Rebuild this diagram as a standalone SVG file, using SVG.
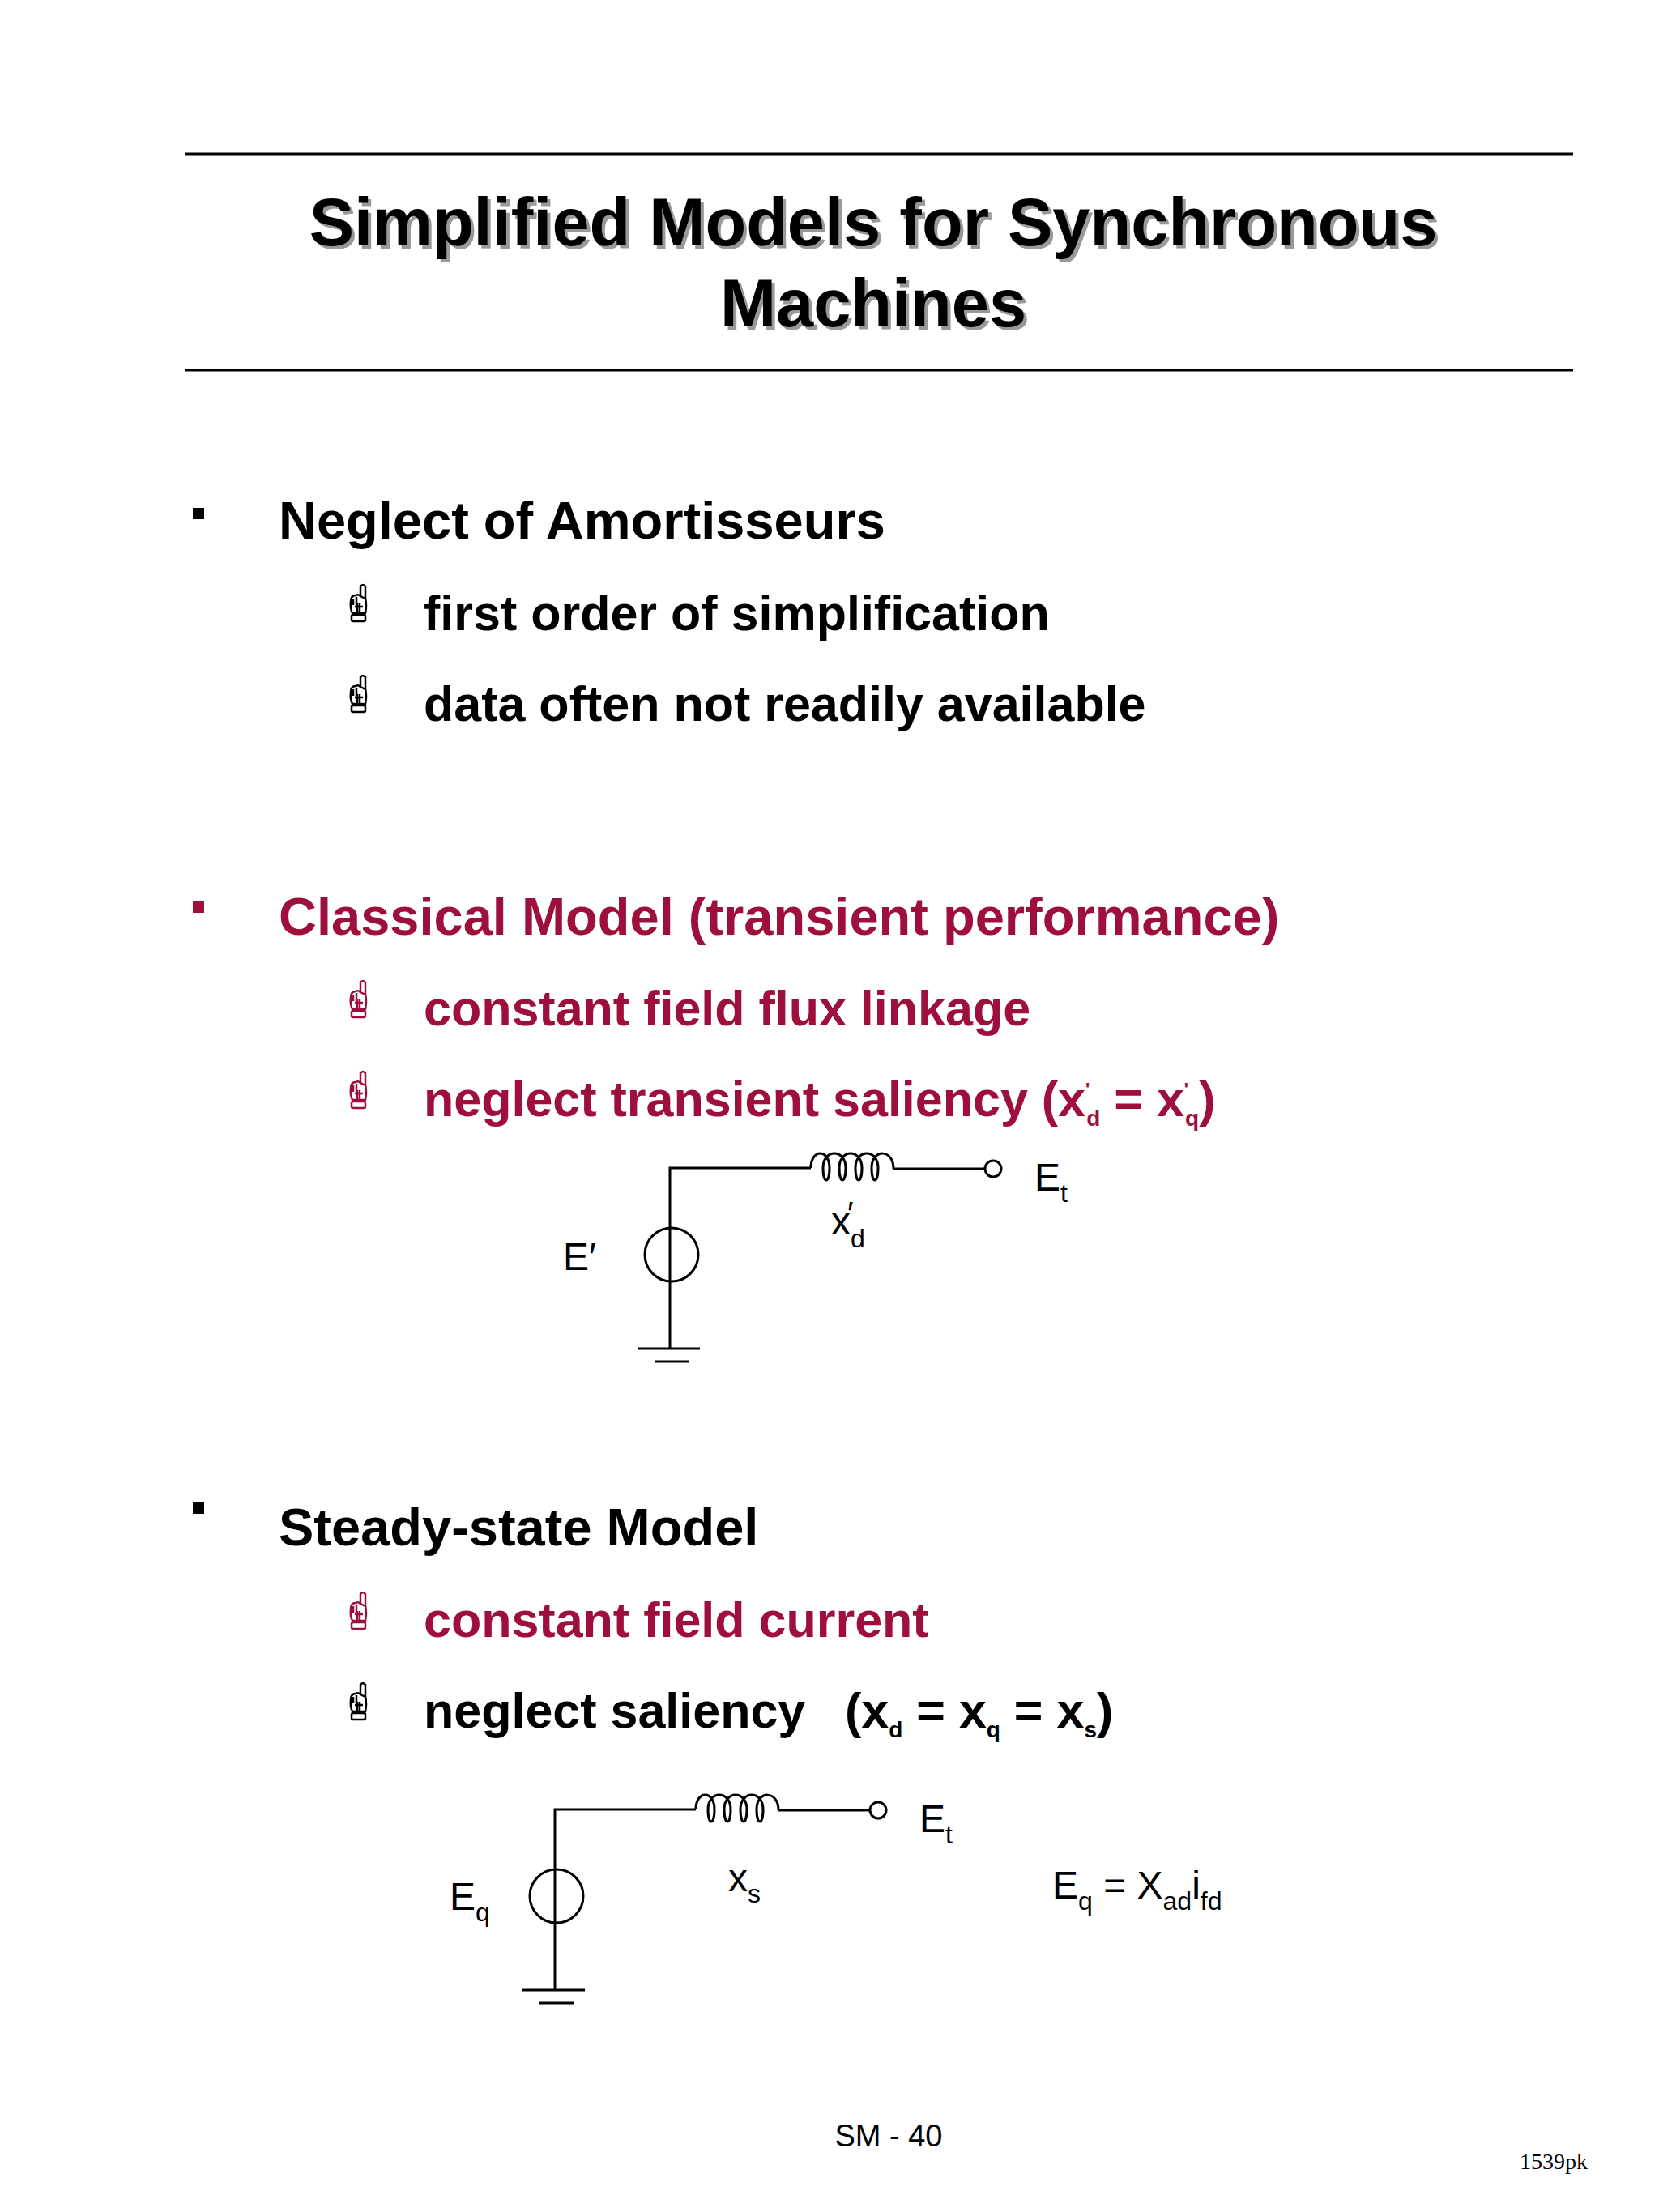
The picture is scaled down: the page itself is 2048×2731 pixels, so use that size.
<svg xmlns="http://www.w3.org/2000/svg" width="2048" height="2731" viewBox="0 0 2048 2731">
<style>
.b{font-family:"Liberation Sans",Arial,sans-serif;font-weight:bold;font-size:65px;fill:#000}
.s{font-size:61px}
.r{fill:#9E0F3C}
.n{font-family:"Liberation Sans",Arial,sans-serif;font-size:48px;fill:#000}
.w{stroke:#000;stroke-width:3;fill:none}
.t{font-family:"Liberation Sans",Arial,sans-serif;font-weight:bold;font-size:83px;text-anchor:middle}
.hk{fill:#fff;stroke:#000;stroke-width:2.5}
.hr{fill:#fff;stroke:#9E0F3C;stroke-width:2.5}
</style>
<defs>
<g id="hand">
<path d="M15,20 L15,3 Q18,-1 21,3 L21,30"/>
<path d="M3,22 Q3,14 9,14 Q12,12 15,15 L21,18 Q23,26 21,36 L5,36 Q2,30 3,22 Z"/>
<path d="M6,18 L6,26 M10,16 L10,26 M8,28 L18,28 M11,24 L11,36 M14,24 L14,36" fill="none"/>
<rect x="4" y="38" width="17" height="8" rx="2"/>
</g>
</defs>
<rect width="2048" height="2731" fill="#fff"/>
<g id="title">
<line x1="228" y1="190" x2="1942" y2="190" stroke="#000" stroke-width="3"/>
<line x1="228" y1="457" x2="1942" y2="457" stroke="#000" stroke-width="3"/>
<text class="t" x="1082" y="307" fill="#999">Simplified Models for Synchronous</text>
<text class="t" x="1082" y="407" fill="#999">Machines</text>
<text class="t" x="1078" y="303" fill="#000">Simplified Models for Synchronous</text>
<text class="t" x="1078" y="403" fill="#000">Machines</text>
</g>
<g id="sec1">
<rect x="238" y="627" width="14" height="14"/>
<text class="b" x="344" y="665">Neglect of Amortisseurs</text>
<use href="#hand" class="hk" x="430" y="721"/>
<text class="b s" x="523" y="778">first order of simplification</text>
<use href="#hand" class="hk" x="430" y="833"/>
<text class="b s" x="523" y="890">data often not readily available</text>
</g>
<g id="sec2">
<rect x="238" y="1113" width="14" height="14" class="r"/>
<text class="b r" x="344" y="1154">Classical Model (transient performance)</text>
<use href="#hand" class="hr" x="430" y="1210"/>
<text class="b s r" x="523" y="1266">constant field flux linkage</text>
<use href="#hand" class="hr" x="430" y="1322"/>
<text class="b s r" x="523" y="1378">neglect transient saliency (x<tspan font-size="22" dy="-26">'</tspan><tspan font-size="28" dx="-4" dy="38">d</tspan><tspan dy="-12"> = x</tspan><tspan font-size="22" dy="-26">'</tspan><tspan font-size="28" dx="-4" dy="38">q</tspan><tspan dy="-12">)</tspan></text>
</g>
<g id="circuit1">
<polyline class="w" points="827,1582 827,1442 1001,1442"/>
<path class="w" d="M1001,1442 C1001,1418 1024,1418 1024,1442 C1024,1462 1016,1462 1016,1442 C1016,1418 1044,1418 1044,1442 C1044,1462 1036,1462 1036,1442 C1036,1418 1064,1418 1064,1442 C1064,1462 1056,1462 1056,1442 C1056,1418 1084,1418 1084,1442 C1084,1462 1076,1462 1076,1442 C1076,1418 1103,1418 1103,1443"/>
<line class="w" x1="1103" y1="1443" x2="1216" y2="1443"/>
<circle class="w" cx="1226" cy="1443" r="10"/>
<circle class="w" cx="829" cy="1549" r="33"/>
<line class="w" x1="827" y1="1582" x2="827" y2="1665"/>
<line class="w" x1="787" y1="1665" x2="864" y2="1665"/>
<line class="w" x1="808" y1="1681" x2="850" y2="1681"/>
<text class="n" x="695" y="1568">E′</text>
<text class="n" x="1026" y="1524">x</text>
<text class="n" x="1046" y="1512" style="font-size:40px">′</text>
<text class="n" x="1050" y="1540" style="font-size:32px">d</text>
<text class="n" x="1277" y="1470">E<tspan font-size="32" dy="14">t</tspan></text>
</g>
<g id="sec3">
<rect x="238" y="1855" width="14" height="14"/>
<text class="b" x="344" y="1908">Steady-state Model</text>
<use href="#hand" class="hr" x="430" y="1965"/>
<text class="b s r" x="523" y="2021">constant field current</text>
<use href="#hand" class="hk" x="430" y="2077"/>
<text class="b s" x="523" y="2133">neglect saliency</text>
<text class="b s" x="1043" y="2133">(x<tspan font-size="28" dy="12">d</tspan><tspan dy="-12"> = x</tspan><tspan font-size="28" dy="12">q</tspan><tspan dy="-12"> = x</tspan><tspan font-size="28" dy="12">s</tspan><tspan dy="-12">)</tspan></text>
</g>
<g id="circuit2" transform="translate(-142,792)">
<polyline class="w" points="827,1582 827,1442 1001,1442"/>
<path class="w" d="M1001,1442 C1001,1418 1024,1418 1024,1442 C1024,1462 1016,1462 1016,1442 C1016,1418 1044,1418 1044,1442 C1044,1462 1036,1462 1036,1442 C1036,1418 1064,1418 1064,1442 C1064,1462 1056,1462 1056,1442 C1056,1418 1084,1418 1084,1442 C1084,1462 1076,1462 1076,1442 C1076,1418 1103,1418 1103,1443"/>
<line class="w" x1="1103" y1="1443" x2="1216" y2="1443"/>
<circle class="w" cx="1226" cy="1443" r="10"/>
<circle class="w" cx="829" cy="1549" r="33"/>
<line class="w" x1="827" y1="1582" x2="827" y2="1665"/>
<line class="w" x1="787" y1="1665" x2="864" y2="1665"/>
<line class="w" x1="808" y1="1681" x2="850" y2="1681"/>
<text class="n" x="697" y="1566">E<tspan font-size="32" dy="14">q</tspan></text>
<text class="n" x="1041" y="1543">x<tspan font-size="32" dy="14">s</tspan></text>
<text class="n" x="1277" y="1470">E<tspan font-size="32" dy="14">t</tspan></text>
</g>
<text class="n" x="1299" y="2344">E<tspan font-size="32" dy="14">q</tspan><tspan dy="-14"> = X</tspan><tspan font-size="32" dy="14">ad</tspan><tspan dy="-14">i</tspan><tspan font-size="32" dy="14">fd</tspan></text>
<text x="1097" y="2650" font-family="Liberation Sans,Arial,sans-serif" font-size="38" text-anchor="middle">SM - 40</text>
<text x="1960" y="2678" font-family="Liberation Serif,serif" font-size="28" text-anchor="end">1539pk</text>
</svg>
